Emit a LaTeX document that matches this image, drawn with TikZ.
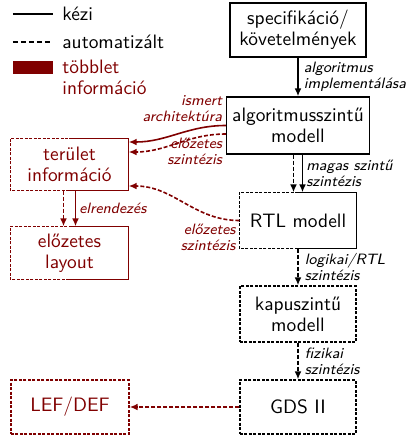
\documentclass[tikz,border=0pt]{standalone}
\usetikzlibrary{arrows.meta, positioning}
\definecolor{cred}{HTML}{800000}
\tikzset{
  every picture/.style={font=\sffamily},
  box/.style={draw=#1, text=#1, minimum width=58pt, minimum height=27.5pt, inner sep=2pt, align=center, line width=0.65pt, font=\sffamily\fontsize{9.7}{10.4}\selectfont},
  box/.default=black,
  autobox/.style={box=#1, dash pattern=on 1.5pt off 0.75pt},
  autobox/.default=black,
  halfbox/.style={box=#1, draw=none},
  halfbox/.default=black,
  solidedge/.style={draw=#1, line width=0.65pt},
  dashedge/.style={solidedge=#1, dash pattern=on 1.5pt off 0.75pt},
  arrow/.style={-{Latex[length=4pt, width=3.4pt]}, line width=0.8pt},
  autoarrow/.style={arrow, dash pattern=on 2pt off 1pt},
  lbl/.style={font=\sffamily\itshape\fontsize{7.5}{8}\selectfont, align=left, inner sep=1.5pt},
  legend/.style={font=\sffamily\fontsize{9.7}{10.4}\selectfont, align=left, inner sep=2pt, anchor=west},
}

\begin{document}
\begin{tikzpicture}[x=0.5pt, y=-0.5pt]
  \useasboundingbox (0,0) rectangle (410,436);

  % legend
  \draw[line width=1.3pt] (13,14) -- (53,14);
  \node[legend] (lmanual) at (58,14) {kézi};
  \draw[line width=1.3pt, dash pattern=on 2.5pt off 1.5pt] (13,42) -- (53,42);
  \node[legend] (lauto) at (58,42) {automatizált};
  \fill[cred] (13,61) rectangle (53,74);
  \node[legend, text=cred] (lextra) at (58,77) {többlet\\információ};

  % design flow
  \node[box, minimum width=68pt, minimum height=27pt] (spec) at (298,30) {specifikáció/\\követelmények};
  \node[box, minimum width=71.5pt, minimum height=28.5pt] (alg) at (298,125.5) {algoritmusszintű\\modell};
  \node[halfbox] (rtl) at (298,220.5) {RTL modell};
  \node[autobox, minimum height=28pt] (gate) at (298,314) {kapuszintű\\modell};
  \node[autobox, minimum height=27pt] (gds) at (298,407) {GDS II};

  % extra information
  \node[halfbox=cred, minimum width=58.5pt, minimum height=25.5pt] (area) at (69.5,164.5) {terület\\információ};
  \node[halfbox=cred, minimum width=58.5pt, minimum height=26pt] (prelay) at (69.5,253) {előzetes\\layout};
  \node[autobox=cred, minimum width=59pt, minimum height=27pt] (lef) at (70,407) {LEF/DEF};

  \draw[solidedge=black] (rtl.north) -- (rtl.north east) -- (rtl.south east) -- (rtl.south);
  \draw[dashedge=black] (rtl.south) -- (rtl.south west) -- (rtl.north west) -- (rtl.north);
  \draw[solidedge=cred] (area.north) -- (area.north east) -- (area.south east) -- (area.south);
  \draw[dashedge=cred] (area.south) -- (area.south west) -- (area.north west) -- (area.north);
  \draw[solidedge=cred] (prelay.north) -- (prelay.north east) -- (prelay.south east) -- (prelay.south);
  \draw[dashedge=cred] (prelay.south) -- (prelay.south west) -- (prelay.north west) -- (prelay.north);

  \draw[arrow] (spec) -- (alg) node[lbl, midway, right, xshift=1pt] {algoritmus\\implementálása};
  \draw[autoarrow] ([xshift=-2.25pt]alg.south) -- ([xshift=-2.25pt]rtl.north);
  \draw[arrow] ([xshift=2.25pt]alg.south) -- ([xshift=2.25pt]rtl.north) node[lbl, midway, right] {magas szintű\\szintézis};
  \draw[autoarrow] (rtl) -- (gate) node[lbl, midway, right, xshift=1.5pt] {logikai/RTL\\szintézis};
  \draw[autoarrow] (gate) -- (gds) node[lbl, midway, right, xshift=1.5pt] {fizikai\\szintézis};

  \draw[autoarrow, cred] (gds) -- (lef);
  \draw[autoarrow, cred] ([xshift=-3pt]area.south) -- ([xshift=-3pt]prelay.north);
  \draw[arrow, cred] ([xshift=3pt]area.south) -- ([xshift=3pt]prelay.north) node[lbl, midway, right] {elrendezés};

  \draw[arrow, cred] (alg.west) to[out=180, in=0] node[lbl, pos=0, above left, align=right] {ismert\\architektúra} ([yshift=11.25pt]area.east);
  \draw[autoarrow, cred] ([yshift=-4.25pt]alg.west) to[out=180, in=0] node[lbl, pos=0, below left, align=right] {előzetes\\szintézis} ([yshift=6.25pt]area.east);
  \draw[autoarrow, cred] (rtl.west) to[out=180, in=0] node[lbl, pos=0, below left, align=right] {előzetes\\szintézis} ([yshift=-10.75pt]area.east);
\end{tikzpicture}
\end{document}
